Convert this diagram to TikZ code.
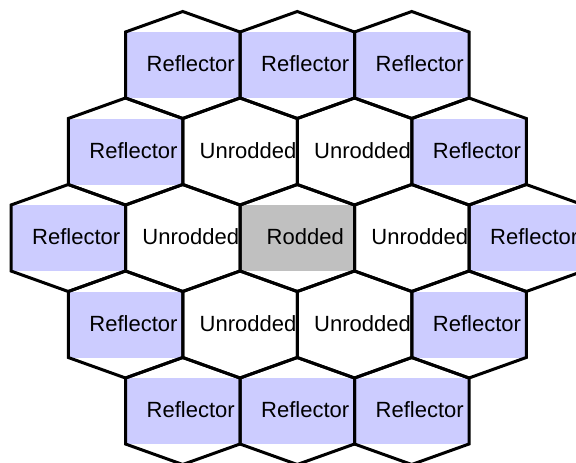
\documentclass[tikz,border=0pt]{standalone}
\usepackage{fontspec}
\setmainfont{Liberation Sans}
\definecolor{reflc}{RGB}{204,204,255}
\definecolor{rodc}{RGB}{192,192,192}
\tikzset{
  hexline/.style={draw=black, line width=3pt, line join=miter},
  lbl/.style={font=\fontsize{22}{26}\selectfont, inner sep=0pt, anchor=base},
}
\def\cells{%
  182.75/65/reflc/Reflector/a1,
  297.25/65/reflc/Reflector/a2,
  411.75/65/reflc/Reflector/a3,
  125.5/151.5/reflc/Reflector/b1,
  240/151.5/white/Unrodded/b2,
  354.5/151.5/white/Unrodded/b3,
  469/151.5/reflc/Reflector/b4,
  68.25/238/reflc/Reflector/c1,
  182.75/238/white/Unrodded/c2,
  297.25/238/rodc/Rodded/c3,
  411.75/238/white/Unrodded/c4,
  526.25/238/reflc/Reflector/c5,
  125.5/324.5/reflc/Reflector/d1,
  240/324.5/white/Unrodded/d2,
  354.5/324.5/white/Unrodded/d3,
  469/324.5/reflc/Reflector/d4,
  182.75/411/reflc/Reflector/e1,
  297.25/411/reflc/Reflector/e2,
  411.75/411/reflc/Reflector/e3%
}
\begin{document}
\begin{tikzpicture}[x=1pt,y=-1pt]
\useasboundingbox (0,0) rectangle (576,463);
\foreach \x/\y/\c/\t/\n in \cells {
  \fill[\c] (\x-57.25,\y-33) rectangle (\x+57.25,\y+33);
}
\foreach \x/\y/\c/\t/\n in \cells {
  \draw[hexline] (\x,\y-53.5) -- (\x+57.25,\y-33) -- (\x+57.25,\y+33)
    -- (\x,\y+53.5) -- (\x-57.25,\y+33) -- (\x-57.25,\y-33) -- cycle;
}
\foreach \x/\y/\c/\t/\n in \cells {
  \node[lbl] (\n) at (\x+8,\y+6.5) {\t};
}
\end{tikzpicture}
\end{document}
